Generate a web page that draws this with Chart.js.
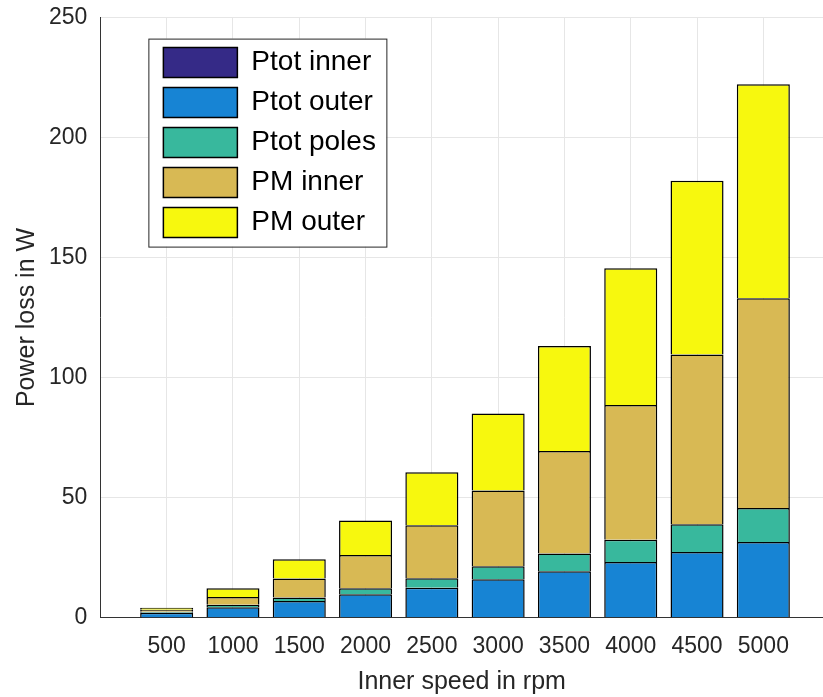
<!DOCTYPE html>
<html lang="en">

<head>
    <meta charset="UTF-8">
    <title>Power loss vs inner speed</title>
    <script src="https://cdn.jsdelivr.net/npm/chart.js"></script>
    <style>
        body {
            margin: 0;
            background: #ffffff;
        }

        .chart-container {
            width: 823px;
            height: 697px;
        }
    </style>
</head>

<body>
    <div class="chart-container">
        <canvas id="lossChart"></canvas>
    </div>

    <script>
        // inner speed in rpm
        const speeds = [500, 1000, 1500, 2000, 2500, 3000, 3500, 4000, 4500, 5000];

        // stacked loss components in W
        const ptotInner = [0.01, 0.02, 0.03, 0.05, 0.06, 0.07, 0.08, 0.1, 0.11, 0.12];
        const ptotOuter = [1.9, 4.2, 6.8, 9.6, 12.3, 15.8, 19.2, 23.0, 27.2, 31.3];
        const ptotPoles = [0.4, 1.1, 1.5, 2.5, 4.0, 5.4, 7.4, 9.3, 11.5, 14.2];
        const pmInner = [0.9, 3.2, 7.9, 13.9, 22.0, 31.6, 42.7, 56.1, 70.8, 87.4];
        const pmOuter = [0.8, 3.6, 8.0, 14.3, 22.1, 32.1, 43.7, 57.0, 72.4, 89.2];

        const yTicks = [0, 50, 100, 150, 200, 250];

        Chart.defaults.font.family = "'Liberation Sans', Arial, sans-serif";
        Chart.defaults.color = '#262626';

        const makeSet = (label, values, color) => ({
            label: label,
            data: values.map((v, i) => ({ x: speeds[i], y: v })),
            backgroundColor: color,
            borderColor: '#000000',
            borderWidth: 1.5,
            barPercentage: 0.8,
            categoryPercentage: 1.0
        });

        // put the legend in the upper left of the plot, with a frame
        const legendFrame = {
            id: 'legendFrame',
            afterLayout(chart) {
                const lg = chart.legend, ca = chart.chartArea;
                lg.left = ca.left + 53;
                lg.top = ca.top + 20;
            },
            afterDraw(chart) {
                const lg = chart.legend, ctx = chart.ctx;
                ctx.save();
                ctx.fillStyle = '#ffffff';
                ctx.fillRect(lg.left - 5, lg.top + 1, 238, 208);
                ctx.strokeStyle = '#262626';
                ctx.lineWidth = 1;
                ctx.strokeRect(lg.left - 4.5, lg.top + 1.5, 238, 208);
                ctx.restore();
                lg.draw();
            }
        };

        new Chart(document.getElementById('lossChart').getContext('2d'), {
            type: 'bar',
            data: {
                datasets: [
                    makeSet('Ptot inner', ptotInner, '#352a87'),
                    makeSet('Ptot outer', ptotOuter, '#1784d4'),
                    makeSet('Ptot poles', ptotPoles, '#38b89d'),
                    makeSet('PM inner', pmInner, '#d8b954'),
                    makeSet('PM outer', pmOuter, '#f7f80e')
                ]
            },
            options: {
                animation: false,
                responsive: true,
                maintainAspectRatio: false,
                layout: { padding: { top: 10, right: 0, bottom: 0, left: 0 } },
                plugins: {
                    tooltip: { enabled: false },
                    legend: {
                        position: 'chartArea',
                        align: 'start',
                        labels: {
                            boxWidth: 74,
                            boxHeight: 30,
                            padding: 10,
                            color: '#000000',
                            font: { size: 28 }
                        }
                    }
                },
                scales: {
                    x: {
                        type: 'linear',
                        stacked: true,
                        offset: false,
                        min: 0,
                        max: 5450,
                        afterBuildTicks: (scale) => {
                            scale.ticks = speeds.map(v => ({ value: v }));
                        },
                        ticks: {
                            padding: 15,
                            font: { size: 23 },
                            callback: (v) => String(v)
                        },
                        grid: { color: '#e6e6e6', drawTicks: false, offset: false },
                        border: { color: '#333333', width: 1 },
                        title: {
                            display: true,
                            text: 'Inner speed in rpm',
                            font: { size: 25 },
                            padding: { top: -8, bottom: 0 }
                        }
                    },
                    y: {
                        stacked: true,
                        min: 0,
                        max: 250,
                        afterBuildTicks: (scale) => {
                            scale.ticks = yTicks.map(v => ({ value: v }));
                        },
                        ticks: {
                            padding: 13,
                            font: { size: 23, lineHeight: 0.4 }
                        },
                        grid: { color: '#e6e6e6', drawTicks: false },
                        border: { color: '#333333', width: 1 },
                        title: {
                            display: true,
                            text: 'Power loss in W',
                            font: { size: 25 },
                            padding: { top: 12, bottom: -6 }
                        }
                    }
                }
            },
            plugins: [legendFrame]
        });
    </script>
</body>

</html>
